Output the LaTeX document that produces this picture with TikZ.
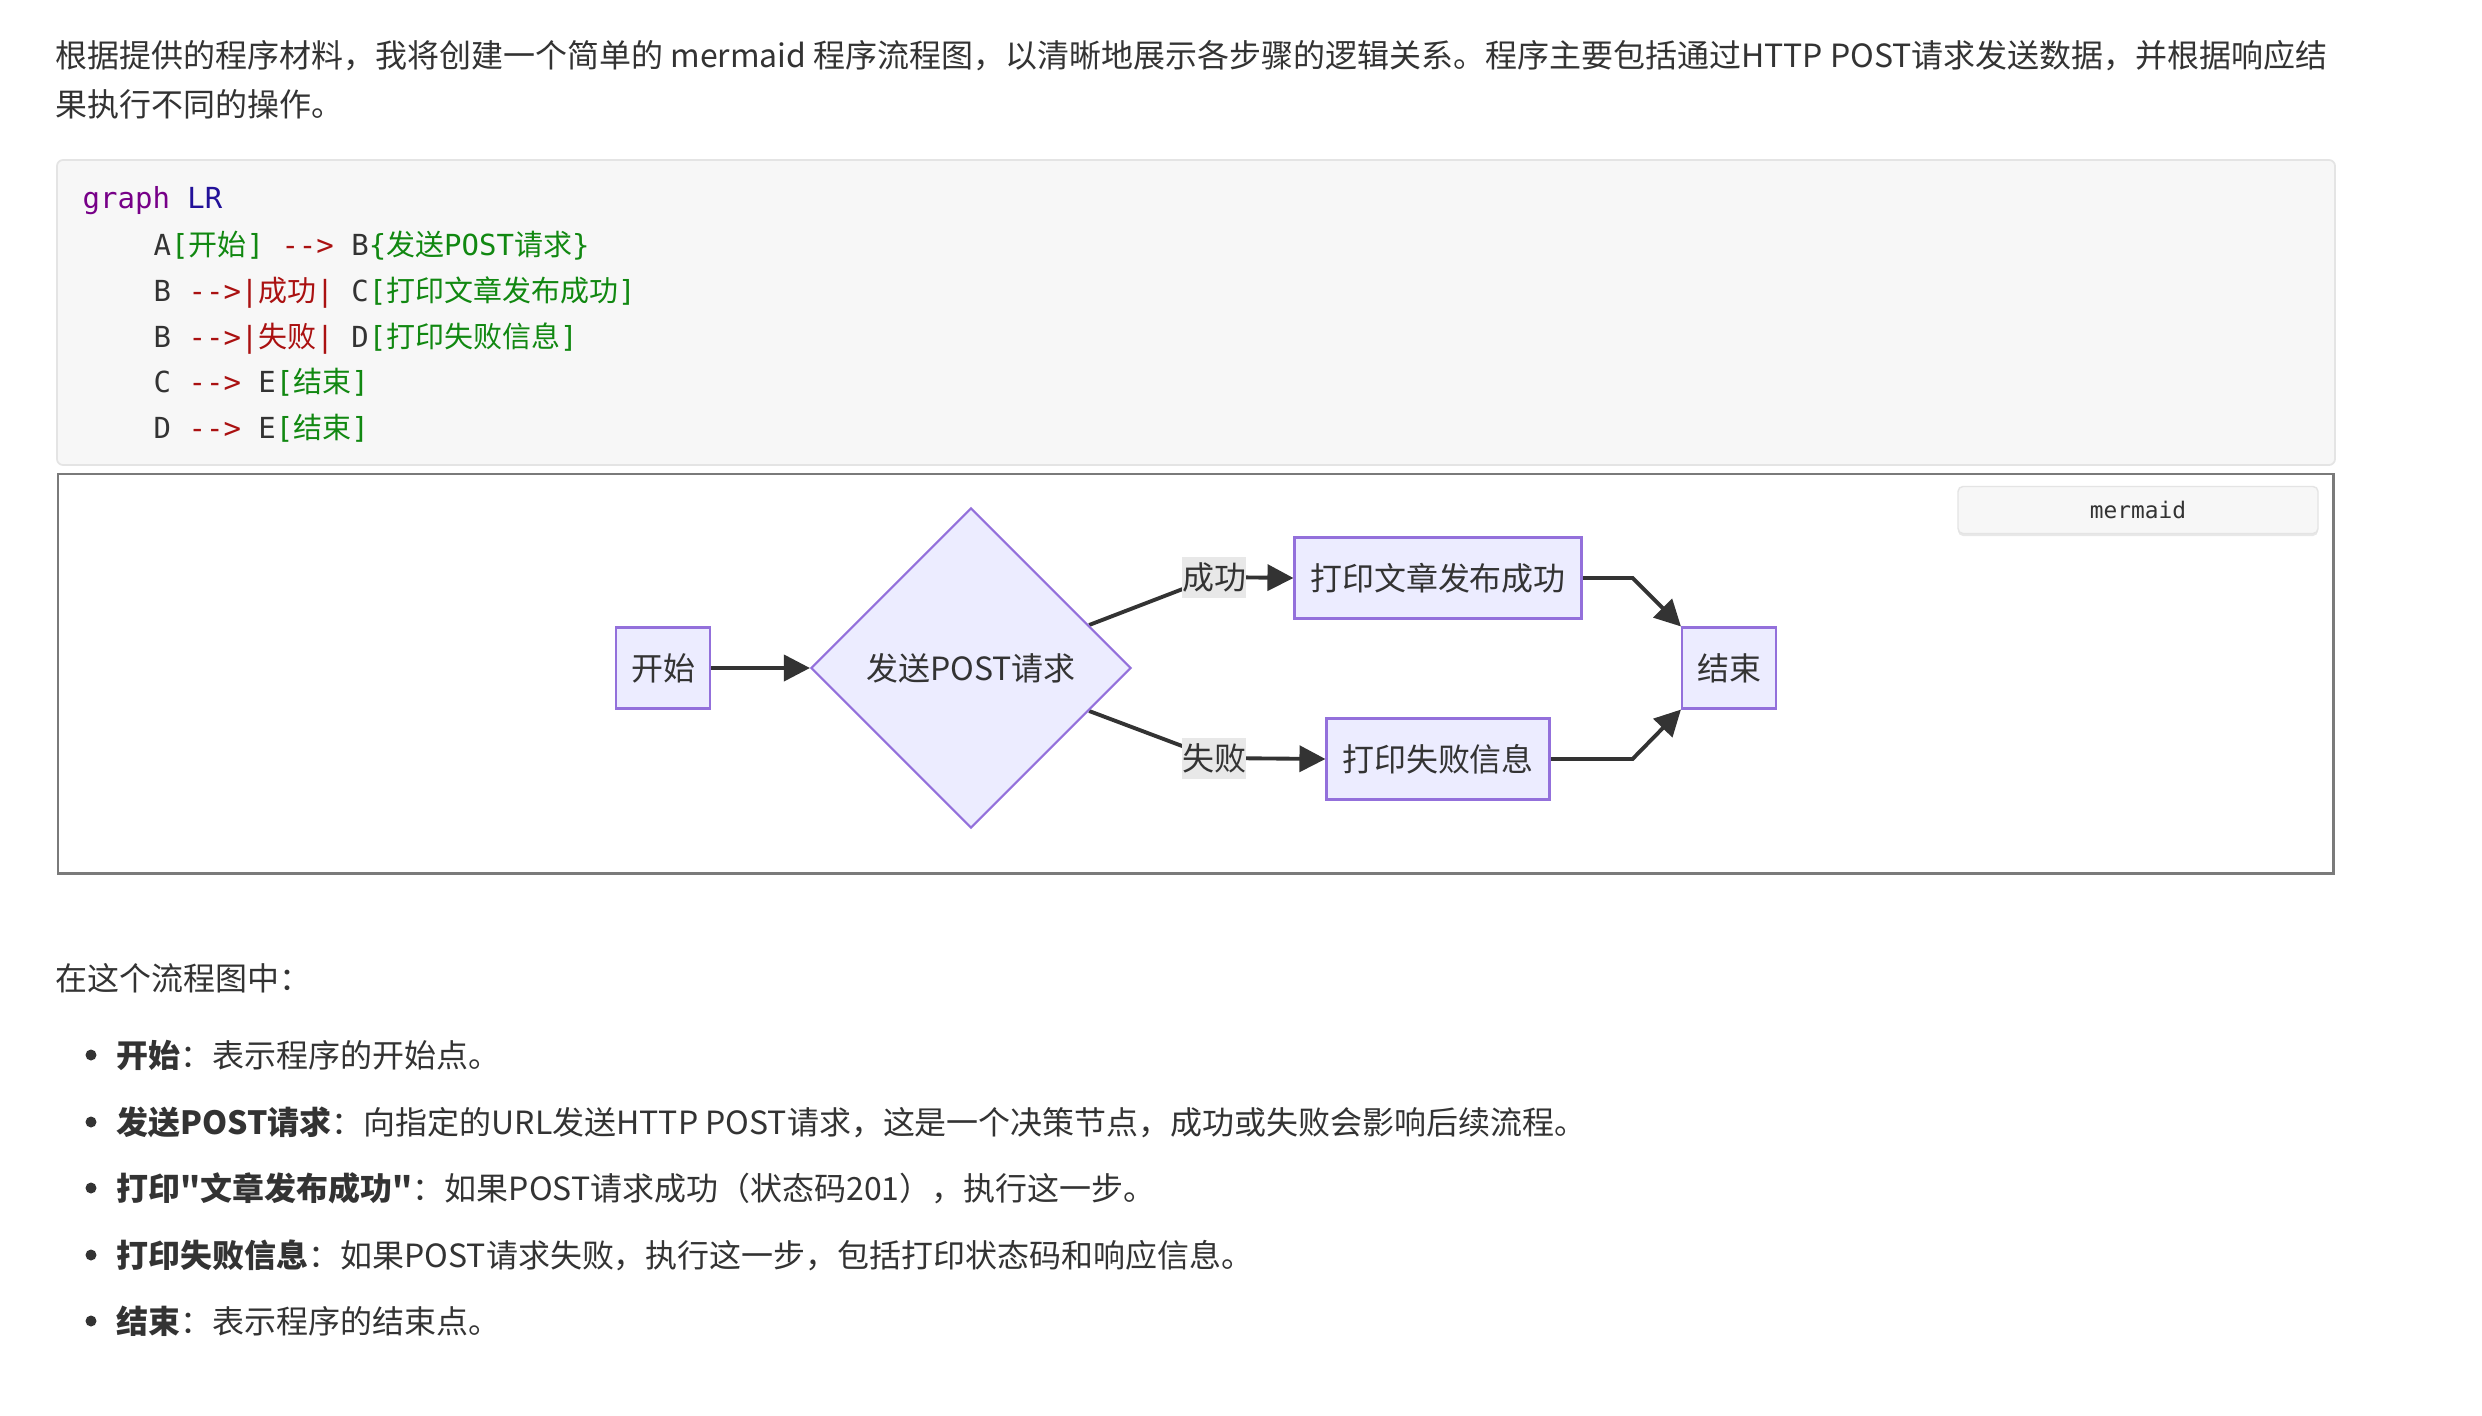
\documentclass[tikz,border=0pt]{standalone}
\usepackage{fontspec}
\setmainfont{Noto Sans CJK SC}[Ligatures=TeXOff]
\newfontfamily\zhfont{Noto Sans CJK SC}[Ligatures=TeXOff]
\newfontfamily\codefont{DejaVu Sans Mono}
\usetikzlibrary{shapes.geometric,arrows.meta,positioning,shadows}

\definecolor{ink}{HTML}{333333}
\definecolor{nodefill}{HTML}{ECECFF}
\definecolor{nodeline}{HTML}{9370DB}
\definecolor{framegray}{HTML}{7A7A7A}
\definecolor{codebg}{HTML}{F7F7F7}
\definecolor{codeedge}{HTML}{E4E4E4}
\definecolor{lblbg}{HTML}{E8E8E8}
\definecolor{kwpurple}{HTML}{770088}
\definecolor{kwblue}{HTML}{221199}
\definecolor{strred}{HTML}{AA1111}
\definecolor{strgreen}{HTML}{118811}

\newcommand\bodysize{\fontsize{9.1pt}{11pt}\selectfont}
\newcommand\codesize{\fontsize{8.25pt}{10pt}\selectfont}
\newcommand\tagsize{\fontsize{6.5pt}{8pt}\selectfont}
\newcommand\zh[1]{{\zhfont #1}}
\newcommand\arr{\textcolor{strred}{-{}-{}>}}
\newcommand\txt[1]{\textcolor{strgreen}{#1}}
\newcommand\lbl[1]{\textcolor{strred}{-{}-{}>|\zh{#1}|}}
\newcommand\dq{\char34\relax}

\pgfdeclarelayer{back}
\pgfdeclarelayer{wires}
\pgfsetlayers{back,wires,main}

\tikzset{
  bodytext/.style={anchor=base west, inner sep=0pt, font=\bodysize, text=ink},
  codeline/.style={anchor=base west, inner sep=0pt, font=\codefont\codesize, text=ink},
  flowbox/.style={draw=nodeline, fill=nodefill, line width=0.6pt, minimum height=8.1mm,
    inner sep=0pt, font=\bodysize, text=ink},
  decision/.style={diamond, draw=nodeline, fill=nodefill, line width=0.6pt, aspect=1,
    minimum width=32mm, minimum height=32mm, inner sep=0pt, font=\bodysize, text=ink},
  edgelbl/.style={fill=lblbg, inner sep=0pt, minimum width=6.4mm, minimum height=4.1mm,
    font=\bodysize, text=ink},
  flowline/.style={draw=ink, line width=1.1pt, -{Triangle[length=2.6mm,width=2.6mm]}},
  tagbox/.style={draw=codeedge, fill=codebg, rounded corners=0.5mm, minimum width=36mm,
    minimum height=4.7mm, inner sep=0pt, font=\codefont\tagsize, text=ink,
    drop shadow={opacity=0.18, shadow xshift=0mm, shadow yshift=-0.25mm}},
  dot/.style={circle, fill=ink, inner sep=0pt, minimum size=1.1mm}
}

\begin{document}
\begin{tikzpicture}[x=0.1mm,y=-0.1mm]
\begin{pgfonlayer}{back}
\fill[white] (0,0) rectangle (2482,1416);
\end{pgfonlayer}
\useasboundingbox (0,0) rectangle (2482,1416);

% opening paragraph
\node[bodytext] (intro1) at (55,67) {根据提供的程序材料，我将创建一个简单的 mermaid 程序流程图，以清晰地展示各步骤的逻辑关系。程序主要包括通过HTTP POST请求发送数据，并根据响应结};
\node[bodytext] (intro2) at (55,116) {果执行不同的操作。};

% code block
\draw[draw=codeedge, fill=codebg, line width=0.5pt, rounded corners=0.6mm] (57,160) rectangle (2335,465);
\node[codeline] (l0) at (82,208) {\textcolor{kwpurple}{graph} \textcolor{kwblue}{LR}};
\node[codeline] (l1) at (153,255) {A\txt{[\zh{开始}]} \arr{} B\txt{\{\zh{发送}POST\zh{请求}\}}};
\node[codeline] (l2) at (153,301) {B \lbl{成功} C\txt{[\zh{打印文章发布成功}]}};
\node[codeline] (l3) at (153,347) {B \lbl{失败} D\txt{[\zh{打印失败信息}]}};
\node[codeline] (l4) at (153,392) {C \arr{} E\txt{[\zh{结束}]}};
\node[codeline] (l5) at (153,438) {D \arr{} E\txt{[\zh{结束}]}};

% rendered chart
\draw[framegray, line width=0.85pt] (58,474) rectangle (2333,873);
\node[tagbox] (tag) at (2138,510) {mermaid};

\node[flowbox, minimum width=9.4mm] (start) at (663,668) {开始};
\node[decision] (dec) at (971,668) {发送POST请求};
\node[flowbox, minimum width=28.7mm] (okbox) at (1438,578) {打印文章发布成功};
\node[flowbox, minimum width=22.3mm] (failbox) at (1438,759) {打印失败信息};
\node[flowbox, minimum width=9.4mm] (endbox) at (1729,668) {结束};
\node[edgelbl] (okl) at (1214,577) {成功};
\node[edgelbl] (faill) at (1214,758) {失败};

\begin{pgfonlayer}{wires}
\draw[flowline] (start) -- (dec);
\draw[flowline] (dec.20) -- (okl.center) -- (okbox.west);
\draw[flowline] (dec.-20) -- (faill.center) -- (failbox.west);
\draw[flowline] (okbox.east) -- ++(50,0) -- (endbox.north west);
\draw[flowline] (failbox.east) -- ++(82,0) -- (endbox.south west);
\end{pgfonlayer}

% explanation list
\node[bodytext] (lead) at (55,990) {在这个流程图中：};
\node[dot] (d1) at (91,1055) {};
\node[dot] (d2) at (91,1122) {};
\node[dot] (d3) at (91,1188) {};
\node[dot] (d4) at (91,1255) {};
\node[dot] (d5) at (91,1321) {};
\node[bodytext] (i1) at (116,1067) {{\bfseries 开始}：表示程序的开始点。};
\node[bodytext] (i2) at (116,1134) {{\bfseries 发送POST请求}：向指定的URL发送HTTP POST请求，这是一个决策节点，成功或失败会影响后续流程。};
\node[bodytext] (i3) at (116,1200) {{\bfseries 打印\dq 文章发布成功\dq}：如果POST请求成功（状态码201），执行这一步。};
\node[bodytext] (i4) at (116,1267) {{\bfseries 打印失败信息}：如果POST请求失败，执行这一步，包括打印状态码和响应信息。};
\node[bodytext] (i5) at (116,1333) {{\bfseries 结束}：表示程序的结束点。};
\end{tikzpicture}
\end{document}
